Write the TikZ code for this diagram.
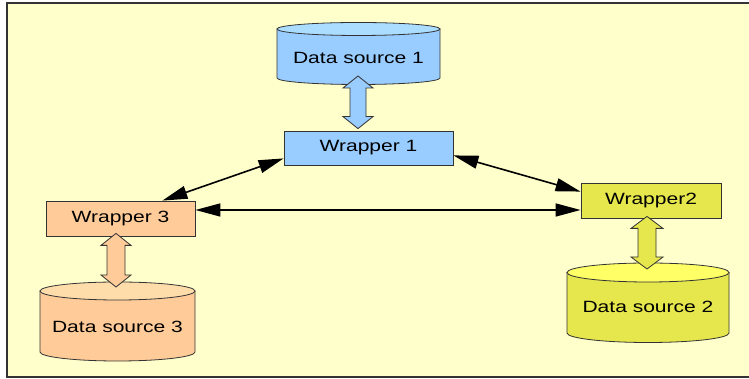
\documentclass[tikz,border=0pt]{standalone}
\usepackage{fontspec}
\setmainfont{Liberation Sans}
\usetikzlibrary{arrows.meta,calc}
\definecolor{bgy}{HTML}{FFFFCC}
\definecolor{blueb}{HTML}{99CCFF}
\definecolor{bluet}{HTML}{AADDFF}
\definecolor{orab}{HTML}{FFCC99}
\definecolor{orat}{HTML}{FFDDAA}
\definecolor{yelb}{HTML}{E6E64D}
\definecolor{yelt}{HTML}{FFFF66}
\definecolor{edgec}{HTML}{333333}
\newcommand\wtxt[1]{\scalebox{1.29}[1]{#1}}
% cx, rx, Ytop, Ybot, ry, body colour, top colour
\newcommand\cylshape[7]{%
  \filldraw[draw=edgec,line width=0.8pt,fill=#6] ({#1-#2},#3) -- ({#1-#2},#4)
    arc[start angle=180,end angle=360,x radius=#2pt,y radius=#5pt] -- ({#1+#2},#3) -- cycle;
  \filldraw[draw=edgec,line width=0.8pt,fill=#7] (#1,#3) ellipse[x radius=#2pt,y radius=#5pt];}
% top point, bottom point, shaft half width, head half width, fill
\newcommand\fatarrow[5]{%
  \filldraw[draw=edgec,line width=0.8pt,fill=#5] let \p1=(#1),\p2=(#2) in
  (\x1,\y1) -- ({\x1+#4pt},{\y1-12pt}) -- ({\x1+#3pt},{\y1-12pt}) -- ({\x1+#3pt},{\y2+12pt})
  -- ({\x1+#4pt},{\y2+12pt}) -- (\x1,\y2) -- ({\x1-#4pt},{\y2+12pt}) -- ({\x1-#3pt},{\y2+12pt})
  -- ({\x1-#3pt},{\y1-12pt}) -- ({\x1-#4pt},{\y1-12pt}) -- cycle;}
\tikzset{
  wrapbox/.style={draw=edgec,line width=0.8pt,inner sep=0pt,font=\fontsize{16.3}{19}\selectfont},
  dstext/.style={inner sep=0pt,font=\fontsize{16.3}{19}\selectfont},
  link/.style={line width=1.6pt,black,{Triangle[length=25pt,width=13pt]}-{Triangle[length=25pt,width=13pt]}}
}
\begin{document}
\begin{tikzpicture}[x=1pt,y=1pt]
\useasboundingbox (0,0) rectangle (749,379);
\fill[white] (0,0) rectangle (749,379);
\filldraw[fill=bgy,draw=edgec,line width=1.2pt] (7,2) rectangle (770,376);

% cylinders
\cylshape{358.5}{81.5}{350}{301}{6.5}{blueb}{bluet}
\cylshape{117.5}{77.5}{88}{27}{9}{orab}{orat}
\cylshape{648}{81}{106.5}{46}{9.5}{yelb}{yelt}
\node[dstext] (ds1) at (358.5,321) {\wtxt{Data source 1}};
\node[dstext] (ds3) at (117.5,52) {\wtxt{Data source 3}};
\node[dstext] (ds2) at (648,72) {\wtxt{Data source 2}};
\coordinate (ds1s) at (358,303);
\coordinate (ds3n) at (116,92);
\coordinate (ds2n) at (647,110);

% wrappers
\node[wrapbox,fill=blueb,minimum width=169pt,minimum height=34pt] (w1) at (368.5,231) {\wtxt{Wrapper 1}};
\node[wrapbox,fill=orab,minimum width=149pt,minimum height=35pt] (w3) at (120.5,160.5) {\wtxt{Wrapper 3}};
\node[wrapbox,fill=yelb,minimum width=140pt,minimum height=35pt] (w2) at (651,178.5) {\wtxt{Wrapper2}};

% fat double arrows
\fatarrow{ds1s}{[yshift=2pt]w1.north}{8}{15}{blueb}
\fatarrow{[yshift=3pt]ds3n |- w3.south}{ds3n}{9}{15}{orab}
\fatarrow{[yshift=2pt]ds2n |- w2.south}{ds2n}{9}{16}{yelb}

% connectors
\draw[link] ([xshift=-33pt]w3.north east) -- ([yshift=7pt]w1.south west);
\draw[link] ([yshift=10pt]w1.south east) -- ([yshift=-9pt]w2.north west);
\draw[link] ([yshift=8.5pt]w3.east) -- ([yshift=8.5pt]w3.east -| w2.west);
\end{tikzpicture}
\end{document}
